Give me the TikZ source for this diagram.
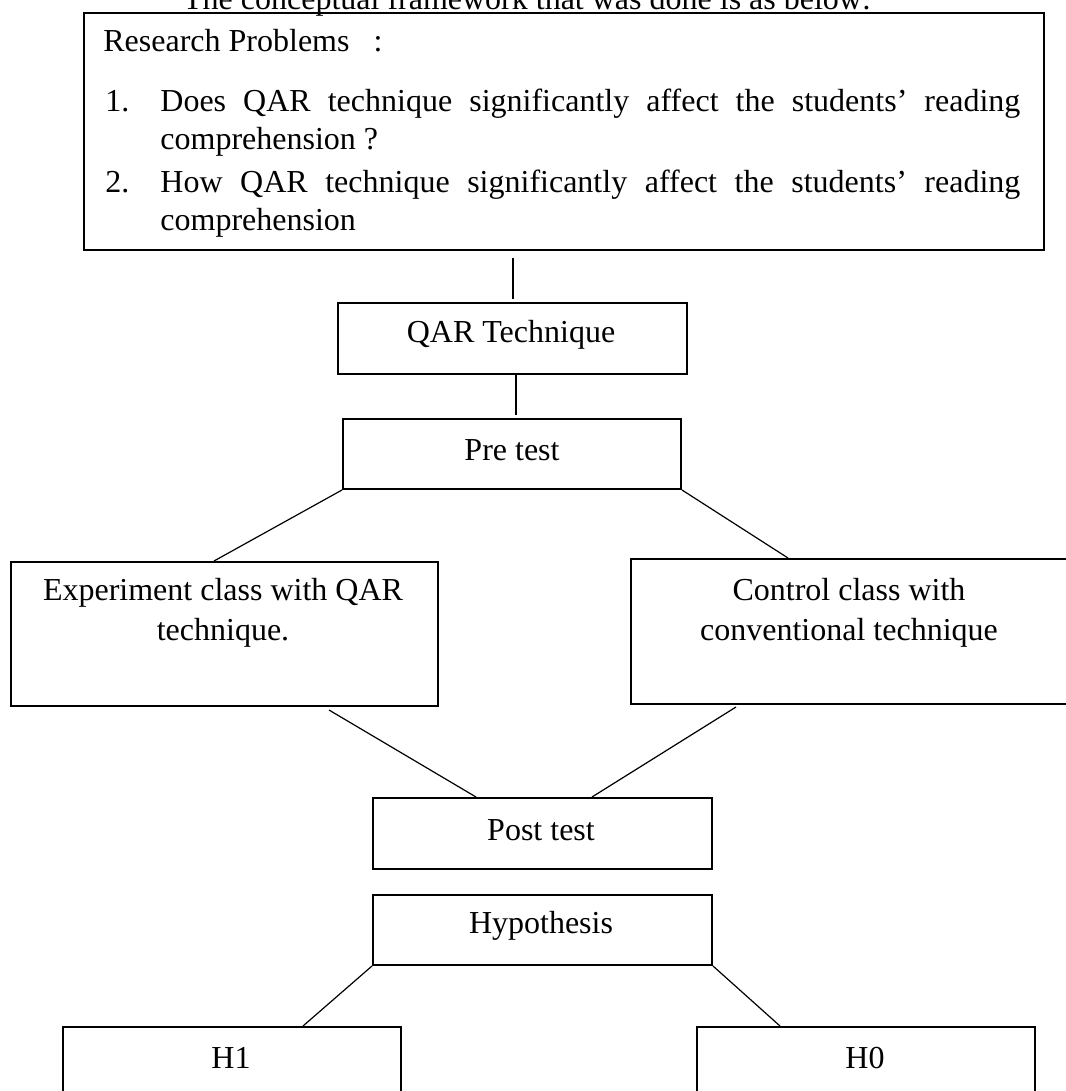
\documentclass[tikz,border=0pt]{standalone}
\usepackage{fontspec}
\setmainfont{Liberation Serif}
\usetikzlibrary{calc}
\begin{document}
\begin{tikzpicture}[x=0.5pt,y=-0.5pt,
  box/.style={draw, line width=1pt, inner sep=0, anchor=north west},
  txt/.style={inner sep=0, font=\fontsize{16}{20}\selectfont, align=center},
  link/.style={line width=0.6pt}]
\useasboundingbox (0,0) rectangle (1065,1091);
% title (cut at the top)
\node[txt, anchor=base] (title) at (527,10) {The conceptual framework that was done is as below:};
% boxes
\node[box, minimum width=480pt, minimum height=118.5pt] (rp) at (83,12) {};
\node[box, minimum width=174.5pt, minimum height=35.5pt] (qar) at (337,302) {};
\node[box, minimum width=169pt, minimum height=35pt] (pre) at (342,418) {};
\node[box, minimum width=213.5pt, minimum height=72pt] (exp) at (10,561) {};
\node[box, minimum width=222.5pt, minimum height=72.5pt] (ctl) at (630,558) {};
\node[box, minimum width=169.5pt, minimum height=35.5pt] (post) at (372,797) {};
\node[box, minimum width=169.5pt, minimum height=35pt] (hyp) at (372,894) {};
\node[box, minimum width=169pt, minimum height=40pt] (h1) at (62,1026) {};
\node[box, minimum width=169pt, minimum height=40pt] (h0) at (696,1026) {};
% research problems text
\node[txt, anchor=base west] (rph) at (103,52) {Research Problems\hspace{12pt}:};
\node[txt, anchor=base west] (n1) at (105,112) {1.};
\node[txt, anchor=base west] (l1) at (160,112) {\makebox[430pt][s]{Does QAR technique significantly affect the students’ reading}};
\node[txt, anchor=base west] (l2) at (160,150) {comprehension ?};
\node[txt, anchor=base west] (n2) at (105,192) {2.};
\node[txt, anchor=base west] (l3) at (160,192) {\makebox[430pt][s]{How QAR technique significantly affect the students’ reading}};
\node[txt, anchor=base west] (l4) at (160,230) {comprehension};
% box texts
\node[txt] (qart) at (511,335) {QAR Technique};
\node[txt] (pret) at (512,450) {Pre test};
\node[txt] (expt) at (223,613) {Experiment class with QAR\\technique.};
\node[txt] (ctlt) at (849,613) {Control class with\\conventional technique};
\node[txt] (postt) at (541,830) {Post test};
\node[txt] (hypt) at (541,926) {Hypothesis};
\node[txt] (h1t) at (231,1058) {H1};
\node[txt] (h0t) at (865,1058) {H0};
% connectors
\draw[link] ($(rp.south west)+(430,7)$) -- ($(qar.north west)+(176,-3)$);
\draw[link] ($(qar.south west)+(179,0)$) -- ($(pre.north west)+(174,-3)$);
\draw[link] (pre.south west) -- ($(exp.north west)+(204,0)$);
\draw[link] (pre.south east) -- ($(ctl.north west)+(158,0)$);
\draw[link] ($(exp.south west)+(319,3)$) -- ($(post.north west)+(104,0)$);
\draw[link] ($(ctl.south west)+(106,2)$) -- ($(post.north west)+(220,0)$);
\draw[link] (hyp.south west) -- ($(h1.north west)+(241,0)$);
\draw[link] (hyp.south east) -- ($(h0.north west)+(84,0)$);
\end{tikzpicture}
\end{document}
